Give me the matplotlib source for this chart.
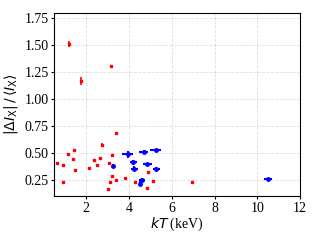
import matplotlib
matplotlib.use("Agg")
import matplotlib.pyplot as plt

plt.rcParams['font.family'] = ['Liberation Serif', 'DejaVu Serif']
plt.rcParams['mathtext.fontset'] = 'dejavusans'
plt.rc('font', size=10)

# red sample (small symbols)
red_kt = [1.20, 1.75, 3.15, 3.39, 2.75, 1.42, 1.17, 0.62, 0.90, 1.39, 1.48, 0.92,
          2.38, 2.64, 2.52, 2.12, 3.19, 3.08, 3.22, 3.10, 3.39, 3.01, 3.82,
          4.87, 4.27, 5.12, 4.83, 6.95]
red_dev = [1.51, 1.17, 1.31, 0.685, 0.575, 0.524, 0.487, 0.407, 0.389, 0.44, 0.343, 0.228,
           0.435, 0.456, 0.389, 0.361, 0.478, 0.407, 0.29, 0.228, 0.246, 0.167, 0.265,
           0.324, 0.234, 0.243, 0.176, 0.231]
red_yerr = [0.03, 0.04, 0.01, 0.005, 0.015, 0.005, 0.005, 0.005, 0.005, 0.005, 0.005, 0.005,
            0.005, 0.005, 0.005, 0.005, 0.005, 0.005, 0.005, 0.005, 0.005, 0.005, 0.005,
            0.005, 0.005, 0.005, 0.005, 0.005]

# blue sample (with temperature errors)
blue_kt = [3.27, 3.94, 4.70, 5.26, 4.20, 4.86, 4.25, 5.28, 4.61, 4.50, 10.5]
blue_dev = [0.382, 0.487, 0.509, 0.524, 0.413, 0.394, 0.355, 0.355, 0.25, 0.216, 0.259]
blue_xerr = [0.07, 0.27, 0.21, 0.26, 0.17, 0.20, 0.15, 0.15, 0.15, 0.05, 0.18]
blue_yerr = [0.02, 0.03, 0.02, 0.015, 0.02, 0.015, 0.02, 0.015, 0.02, 0.02, 0.01]

fig = plt.figure(figsize=(3.2, 2.4), dpi=100)
ax = fig.add_axes([0.169, 0.183, 0.769, 0.763])

ax.errorbar(red_kt, red_dev, yerr=red_yerr, fmt='s', color='red', ms=1.8,
            elinewidth=1.2, capsize=0, zorder=3)
ax.errorbar(blue_kt, blue_dev, xerr=blue_xerr, yerr=blue_yerr, fmt='o', color='blue',
            ms=2.5, elinewidth=1.5, capsize=0, zorder=3)

ax.set_xlim(0.5, 12)
ax.set_ylim(0.1, 1.8)
ax.set_xticks([2, 4, 6, 8, 10, 12])
ax.set_yticks([0.25, 0.5, 0.75, 1.0, 1.25, 1.5, 1.75])
ax.tick_params(length=2.5, pad=1.5)
ax.grid(True, linestyle='--', color='grey', alpha=0.25, linewidth=0.6)
ax.set_axisbelow(True)

ax.set_xlabel(r'$kT$ (keV)', labelpad=1)
ax.set_ylabel(r'$|\Delta I_{\rm X}|\,/\,\langle I_{\rm X}\rangle$', labelpad=3)

plt.savefig("out.png", dpi=100)
